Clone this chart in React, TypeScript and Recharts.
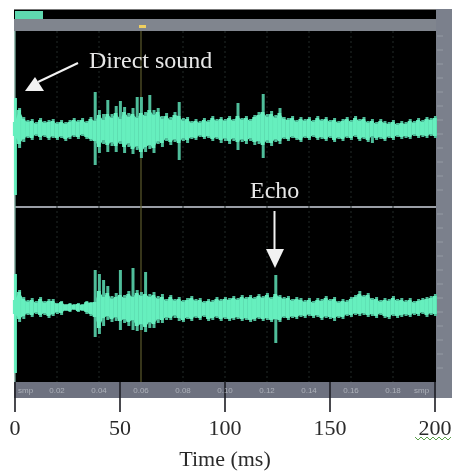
import { Area, Bar, CartesianGrid, Cell, ComposedChart, XAxis, YAxis } from "recharts";

const W = 452;
const H = 472;
const SERIF = "'Liberation Serif', serif";
const TEAL = "#66efbe";
const TEAL_HAIR = "#4fbd9a";

const TIME = [
  0, 2, 4, 6, 8, 10, 12, 14, 16,
  18, 20, 22, 24, 26, 28, 30, 32, 34, 36,
  38, 40, 42, 44, 46, 48, 50, 52, 54, 56,
  58, 60, 62, 64, 66, 68, 70, 72, 74, 76,
  78, 80, 82, 84, 86, 88, 90, 92, 94, 96,
  98, 100, 102, 104, 106, 108, 110, 112, 114, 116,
  118, 120, 122, 124, 126, 128, 130, 132, 134, 136,
  138, 140, 142, 144, 146, 148, 150, 152, 154, 156,
  158, 160, 162, 164, 166, 168, 170, 172, 174, 176,
  178, 180, 182, 184, 186, 188, 190, 192, 194, 196,
  198, 200,
];

// upper channel, amplitude
const TOP_CORE_HI = [
  6, 18, 9, 6, 7, 4, 8, 5, 6,
  7, 4, 6, 4, 6, 8, 6, 8, 5, 9,
  7, 13, 8, 14, 10, 15, 9, 16, 11, 14,
  10, 15, 12, 18, 13, 16, 9, 12, 8, 13,
  12, 7, 9, 5, 7, 5, 8, 6, 10, 7,
  9, 7, 10, 7, 12, 8, 10, 7, 11, 13,
  16, 11, 14, 10, 15, 9, 8, 10, 6, 9,
  7, 9, 6, 10, 7, 9, 6, 8, 5, 7,
  9, 6, 10, 7, 9, 5, 7, 4, 7, 5,
  4, 6, 3, 5, 4, 7, 5, 8, 6, 9,
  8, 10,
];
const TOP_CORE_LO = [
  -8, -16, -11, -8, -10, -6, -9, -7, -10,
  -8, -10, -8, -11, -9, -7, -9, -6, -9, -11,
  -13, -19, -12, -17, -14, -18, -13, -19, -15, -21,
  -18, -24, -19, -17, -20, -13, -15, -10, -14, -11,
  -15, -10, -12, -9, -10, -7, -9, -8, -11, -9,
  -12, -10, -13, -10, -14, -11, -13, -10, -14, -13,
  -17, -12, -15, -11, -13, -9, -11, -8, -10, -12,
  -8, -10, -7, -10, -9, -11, -8, -12, -9, -11,
  -8, -10, -7, -11, -9, -12, -8, -10, -9, -11,
  -8, -10, -7, -9, -8, -9, -6, -8, -7, -8,
  -6, -8,
];
const TOP_HAIR_HI = [
  30, 20, 11, 8, 9, 6, 10, 7, 8,
  9, 6, 8, 6, 8, 10, 8, 10, 7, 11,
  36, 18, 14, 28, 14, 22, 27, 21, 15, 20,
  31, 31, 16, 33, 18, 20, 12, 15, 11, 16,
  26, 10, 11, 7, 9, 7, 10, 8, 12, 9,
  11, 9, 12, 9, 25, 10, 12, 9, 13, 16,
  34, 14, 17, 13, 20, 11, 10, 12, 8, 11,
  9, 11, 8, 12, 9, 11, 8, 10, 7, 9,
  11, 8, 12, 9, 11, 7, 9, 6, 9, 7,
  6, 8, 5, 7, 6, 9, 7, 10, 8, 11,
  10, 12,
];
const TOP_HAIR_LO = [
  -67, -20, -14, -10, -12, -8, -12, -9, -12,
  -10, -12, -10, -13, -11, -9, -11, -8, -11, -13,
  -37, -25, -16, -24, -18, -24, -16, -25, -19, -26,
  -22, -30, -24, -21, -25, -16, -19, -13, -17, -14,
  -32, -13, -15, -11, -12, -9, -11, -10, -13, -11,
  -15, -13, -16, -13, -22, -14, -16, -13, -17, -16,
  -30, -15, -18, -14, -16, -11, -13, -10, -12, -14,
  -10, -12, -9, -12, -11, -13, -10, -14, -11, -13,
  -10, -12, -9, -13, -11, -14, -15, -12, -11, -13,
  -10, -12, -9, -11, -10, -11, -8, -10, -9, -10,
  -8, -10,
];

// lower channel
const LOW_CORE_HI = [
  6, 14, 7, 4, 6, 3, 7, 3, 5,
  5, 2, 4, 1, 2, 1, 2, 1, 4, 3,
  4, 15, 9, 13, 7, 9, 11, 8, 12, 9,
  13, 10, 12, 9, 11, 7, 9, 5, 9, 5,
  7, 4, 6, 8, 5, 6, 3, 5, 4, 7,
  5, 7, 6, 8, 6, 9, 7, 9, 7, 10,
  8, 11, 7, 12, 9, 7, 8, 5, 7, 6,
  4, 6, 3, 6, 5, 8, 5, 7, 3, 5,
  4, 7, 9, 12, 9, 11, 6, 7, 4, 6,
  5, 8, 5, 6, 4, 6, 3, 5, 6, 7,
  8, 10,
];
const LOW_CORE_LO = [
  -8, -13, -10, -7, -9, -6, -9, -7, -10,
  -8, -6, -7, -4, -5, -3, -5, -4, -6, -8,
  -11, -22, -12, -10, -13, -11, -15, -13, -16, -14,
  -20, -18, -21, -16, -18, -13, -14, -11, -12, -9,
  -12, -14, -11, -13, -10, -12, -9, -13, -12, -10,
  -13, -11, -13, -12, -11, -13, -12, -14, -13, -11,
  -13, -12, -14, -13, -14, -10, -12, -10, -11, -9,
  -10, -8, -10, -9, -12, -10, -11, -12, -10, -11,
  -8, -9, -7, -8, -7, -9, -8, -10, -7, -10,
  -11, -8, -10, -9, -8, -9, -7, -8, -6, -9,
  -7, -8,
];
const LOW_HAIR_HI = [
  32, 16, 9, 6, 8, 5, 9, 5, 7,
  7, 3, 5, 2, 3, 2, 3, 2, 5, 4,
  36, 32, 26, 20, 10, 13, 36, 11, 15, 38,
  16, 14, 34, 12, 14, 10, 12, 7, 11, 7,
  9, 6, 8, 10, 7, 8, 5, 7, 6, 9,
  7, 9, 8, 10, 8, 11, 9, 11, 9, 12,
  10, 13, 9, 31, 11, 9, 10, 7, 9, 8,
  6, 8, 5, 8, 7, 10, 7, 9, 5, 7,
  6, 9, 11, 15, 11, 13, 8, 9, 6, 8,
  7, 10, 7, 8, 6, 8, 5, 7, 8, 9,
  10, 12,
];
const LOW_HAIR_LO = [
  -67, -16, -13, -9, -11, -8, -11, -9, -12,
  -10, -8, -9, -5, -6, -4, -6, -5, -8, -10,
  -31, -28, -20, -14, -16, -15, -24, -17, -20, -24,
  -25, -24, -26, -22, -22, -17, -17, -14, -14, -12,
  -15, -16, -13, -15, -12, -14, -11, -15, -14, -12,
  -15, -13, -15, -14, -13, -15, -14, -16, -15, -13,
  -15, -14, -16, -37, -16, -12, -14, -12, -13, -11,
  -12, -10, -12, -11, -14, -12, -13, -15, -12, -13,
  -10, -11, -9, -10, -9, -11, -10, -12, -9, -12,
  -13, -10, -12, -11, -10, -11, -9, -10, -8, -11,
  -9, -10,
];

const TICKS = [0, 50, 100, 150, 200];
const GRID = [20, 40, 80, 100, 120, 140, 160, 180];
const CURSOR = [60];
const EDGE = [0];
const RULER = ["0.02", "0.04", "0.06", "0.08", "0.10", "0.12", "0.14", "0.16", "0.18"];
const SCALE_ROWS = [36, 50, 64, 78, 92, 106, 120, 134, 148, 162, 176, 190, 214, 228, 242, 256, 270, 284, 298, 312, 326, 340, 354, 368];

const rows = TIME.map((t, i) => ({
  t,
  topCore: [TOP_CORE_LO[i], TOP_CORE_HI[i]],
  topHair: [TOP_HAIR_LO[i], TOP_HAIR_HI[i]],
  lowCore: [LOW_CORE_LO[i], LOW_CORE_HI[i]],
  lowHair: [LOW_HAIR_LO[i], LOW_HAIR_HI[i]],
}));

// the direct sound at t = 0 is as bright as the core
const hairCells = TIME.map((t) => <Cell key={t} fill={t === 0 ? TEAL : TEAL_HAIR} />);

export default function App() {
  return (
    <div style={{ position: "absolute", left: 0, top: 0, width: W, height: H, background: "#fff", filter: "blur(0.7px)" }}>
      {/* plugin window behind the plot */}
      <div style={{ position: "absolute", left: 14, top: 9, width: 423, height: 10, background: "#000", borderTop: "1px solid #777" }} />
      <div style={{ position: "absolute", left: 15, top: 11, width: 28, height: 8, background: "#5fd8b0" }} />
      <div style={{ position: "absolute", left: 14, top: 19, width: 423, height: 12, background: "#80858e" }} />
      <div style={{ position: "absolute", left: 15, top: 31, width: 421, height: 351, background: "#000" }} />
      <div style={{ position: "absolute", left: 14, top: 382, width: 423, height: 16, background: "#6e7280" }} />
      <div style={{ position: "absolute", left: 436, top: 9, width: 16, height: 389, background: "#7b808c" }} />
      <div style={{ position: "absolute", left: 139, top: 25, width: 7, height: 3, background: "#f0d060" }} />
      <div style={{ position: "absolute", left: 15, top: 206, width: 421, height: 2, background: "#9a9ea6" }} />

      <div style={{ position: "absolute", left: 0, top: 0 }}>
        <ComposedChart width={W} height={H} data={rows} margin={{ top: 31, right: 17, bottom: 0, left: 15 }}>
          <XAxis
            xAxisId="main"
            dataKey="t"
            type="number"
            domain={[0, 200]}
            ticks={TICKS}
            axisLine={false}
            tickSize={30}
            tickLine={{ stroke: "#1c1c22", strokeWidth: 1.6 }}
            tick={{ fill: "#2a2a2a", fontFamily: SERIF, fontSize: 22 }}
            tickMargin={7}
            interval={0}
            height={90}
            label={{ value: "Time (ms)", position: "insideBottom", offset: 6, fill: "#2a2a2a", fontFamily: SERIF, fontSize: 22 }}
          />
          {/* one hidden x axis per bar layer, so the layers overlap instead of sitting side by side */}
          <XAxis xAxisId="topCoreX" hide height={0} dataKey="t" type="number" domain={[0, 200]} />
          <XAxis xAxisId="lowHairX" hide height={0} dataKey="t" type="number" domain={[0, 200]} />
          <XAxis xAxisId="lowCoreX" hide height={0} dataKey="t" type="number" domain={[0, 200]} />
          <YAxis yAxisId="top" hide domain={[-254, 97]} />
          <YAxis yAxisId="low" hide domain={[-76, 275]} />
          <CartesianGrid xAxisId="main" yAxisId="top" horizontal={false} verticalValues={GRID} stroke="#232b28" strokeDasharray="2 3" />
          <CartesianGrid xAxisId="main" yAxisId="top" horizontal={false} verticalValues={CURSOR} stroke="#5c5a2c" strokeWidth={1.2} />
          <CartesianGrid xAxisId="main" yAxisId="top" horizontal={false} verticalValues={EDGE} stroke="#6f9c90" strokeWidth={1.4} />
          <Bar dataKey="topHair" xAxisId="main" yAxisId="top" barSize={3} fill={TEAL_HAIR} isAnimationActive={false}>
            {hairCells}
          </Bar>
          <Bar dataKey="lowHair" xAxisId="lowHairX" yAxisId="low" barSize={3} fill={TEAL_HAIR} isAnimationActive={false}>
            {hairCells}
          </Bar>
          <Bar dataKey="topCore" xAxisId="topCoreX" yAxisId="top" barSize={5.5} fill={TEAL} isAnimationActive={false} />
          <Bar dataKey="lowCore" xAxisId="lowCoreX" yAxisId="low" barSize={5.5} fill={TEAL} isAnimationActive={false} />
          {/* closes the gaps between the core bars */}
          <Area dataKey="topCore" xAxisId="topCoreX" yAxisId="top" type="linear" fill={TEAL} fillOpacity={1} stroke="none" dot={false} activeDot={false} isAnimationActive={false} />
          <Area dataKey="lowCore" xAxisId="lowCoreX" yAxisId="low" type="linear" fill={TEAL} fillOpacity={1} stroke="none" dot={false} activeDot={false} isAnimationActive={false} />
        </ComposedChart>
      </div>

      {/* annotations, ruler text and the scale strip */}
      <svg width={W} height={H} style={{ position: "absolute", left: 0, top: 0 }}>
        <line x1={78} y1={63} x2={38} y2={82} stroke="#f2f2f2" strokeWidth={2} />
        <polygon points="25,91 44,91 35,77" fill="#f2f2f2" />
        <text x={89} y={68} fill="#e8e8e8" fontFamily={SERIF} fontSize={24}>Direct sound</text>
        <text x={250} y={198} fill="#e8e8e8" fontFamily={SERIF} fontSize={24}>Echo</text>
        <line x1={274.5} y1={211} x2={274.5} y2={250} stroke="#f2f2f2" strokeWidth={2} />
        <polygon points="266,249 284,249 275,268" fill="#f2f2f2" />
        <text x={18} y={393} fill="#aeb2ba" fontFamily="'Liberation Sans', sans-serif" fontSize={8}>smp</text>
        {RULER.map((r, i) => (
          <text key={r} x={57 + i * 42} y={393} fill="#aeb2ba" textAnchor="middle" fontFamily="'Liberation Sans', sans-serif" fontSize={8}>{r}</text>
        ))}
        <text x={414} y={393} fill="#aeb2ba" fontFamily="'Liberation Sans', sans-serif" fontSize={8}>smp</text>
        {SCALE_ROWS.map((y) => (
          <line key={y} x1={437} y1={y} x2={443} y2={y} stroke="#959aa3" strokeWidth={1} />
        ))}
        <polyline
          points="415,437 418,440 421,437 424,440 427,437 430,440 433,437 436,440 439,437 442,440 445,437 448,440 451,437"
          fill="none"
          stroke="#5aa04a"
          strokeWidth={1}
        />
      </svg>
    </div>
  );
}
